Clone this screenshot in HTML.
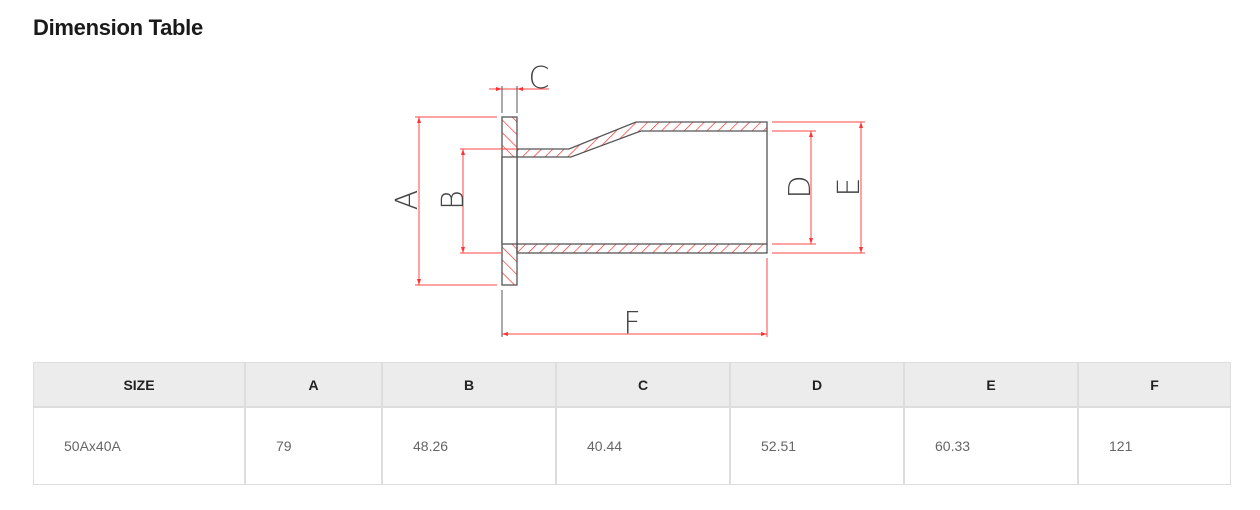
<!DOCTYPE html>
<html><head><meta charset="utf-8"><style>
html,body{margin:0;padding:0;background:#fff;width:1260px;height:510px;overflow:hidden;font-family:"Liberation Sans",sans-serif;}
h1{position:absolute;left:33px;top:15px;margin:0;font-size:22px;font-weight:bold;color:#1a1a1a;letter-spacing:-0.3px;}
.c{position:absolute;box-sizing:border-box;display:flex;align-items:center;}
.h{background:#ececec;justify-content:center;font-weight:bold;font-size:14px;color:#222;}
.b{background:#fff;font-size:14px;color:#666;padding-left:30px;}
.t{position:absolute;left:33px;top:362px;width:1198px;height:123px;background:#ddd;}
</style></head><body>
<h1>Dimension Table</h1>
<svg width="1260" height="510" style="position:absolute;left:0;top:0" xmlns="http://www.w3.org/2000/svg">
<defs>
<pattern id="hp" width="8" height="8" patternUnits="userSpaceOnUse" patternTransform="rotate(45)"><line x1="0" y1="0" x2="0" y2="8" stroke="#f22" stroke-width="1.3"/></pattern>
<pattern id="hf" width="9" height="9" patternUnits="userSpaceOnUse" patternTransform="rotate(-45)"><line x1="0" y1="0" x2="0" y2="9" stroke="#f22" stroke-width="1.3"/></pattern>
<marker id="ar" markerWidth="6" markerHeight="6" refX="6" refY="3" orient="auto-start-reverse" markerUnits="userSpaceOnUse"><path d="M0,1 L6,3 L0,5z" fill="#f33"/></marker>
</defs>
<g stroke="#555" stroke-width="1.3">
<rect x="502" y="117" width="15" height="168" fill="url(#hf)"/>
<rect x="502" y="157" width="15" height="87" fill="#fff"/>
<path d="M517,149 L569,149 L636,122 L767,122 L767,131 L641,131 L571,157 L517,157 Z" fill="url(#hp)"/>
<rect x="517" y="244" width="250" height="9" fill="url(#hp)"/>
<line x1="767" y1="131" x2="767" y2="244"/>
</g>
<g stroke="#f44" stroke-width="1" fill="none">
<line x1="415" y1="117" x2="497" y2="117"/><line x1="415" y1="285" x2="497" y2="285"/>
<line x1="419" y1="117" x2="419" y2="285" marker-start="url(#ar)" marker-end="url(#ar)"/>
<line x1="460" y1="149" x2="517" y2="149"/><line x1="460" y1="253" x2="502" y2="253"/>
<line x1="463" y1="149" x2="463" y2="253" marker-start="url(#ar)" marker-end="url(#ar)"/>
<line x1="489" y1="89" x2="549" y2="89"/>
<line x1="496" y1="89" x2="502" y2="89" marker-end="url(#ar)"/>
<line x1="523" y1="89" x2="517" y2="89" marker-end="url(#ar)"/>
<line x1="772" y1="131" x2="816" y2="131"/><line x1="772" y1="244" x2="816" y2="244"/>
<line x1="811" y1="131" x2="811" y2="244" marker-start="url(#ar)" marker-end="url(#ar)"/>
<line x1="772" y1="122" x2="865" y2="122"/><line x1="772" y1="253" x2="865" y2="253"/>
<line x1="861" y1="122" x2="861" y2="253" marker-start="url(#ar)" marker-end="url(#ar)"/>
<line x1="502" y1="334" x2="767" y2="334" marker-start="url(#ar)" marker-end="url(#ar)"/>
<line x1="767" y1="258" x2="767" y2="337"/>
</g>
<g stroke="#555" stroke-width="1">
<line x1="502" y1="86" x2="502" y2="113"/><line x1="517" y1="86" x2="517" y2="113"/>
<line x1="502" y1="290" x2="502" y2="337"/>
</g>
<g fill="#444" font-family="DejaVu Sans, sans-serif" font-size="30" font-weight="200" text-anchor="middle">
<text x="539" y="88">C</text>
<text x="632" y="333">F</text>
<text transform="translate(417,200) rotate(-90)">A</text>
<text transform="translate(463,200) rotate(-90)">B</text>
<text transform="translate(810,187) rotate(-90)">D</text>
<text transform="translate(859,187) rotate(-90)">E</text>
</g>
</svg>
<div class="t"></div>
<div class="c h" style="left:34px;top:363px;width:210px;height:43px">SIZE</div>
<div class="c h" style="left:246px;top:363px;width:135px;height:43px">A</div>
<div class="c h" style="left:383px;top:363px;width:172px;height:43px">B</div>
<div class="c h" style="left:557px;top:363px;width:172px;height:43px">C</div>
<div class="c h" style="left:731px;top:363px;width:172px;height:43px">D</div>
<div class="c h" style="left:905px;top:363px;width:172px;height:43px">E</div>
<div class="c h" style="left:1079px;top:363px;width:151px;height:43px">F</div>
<div class="c b" style="left:34px;top:408px;width:210px;height:76px">50Ax40A</div>
<div class="c b" style="left:246px;top:408px;width:135px;height:76px">79</div>
<div class="c b" style="left:383px;top:408px;width:172px;height:76px">48.26</div>
<div class="c b" style="left:557px;top:408px;width:172px;height:76px">40.44</div>
<div class="c b" style="left:731px;top:408px;width:172px;height:76px">52.51</div>
<div class="c b" style="left:905px;top:408px;width:172px;height:76px">60.33</div>
<div class="c b" style="left:1079px;top:408px;width:151px;height:76px">121</div>
</body></html>
